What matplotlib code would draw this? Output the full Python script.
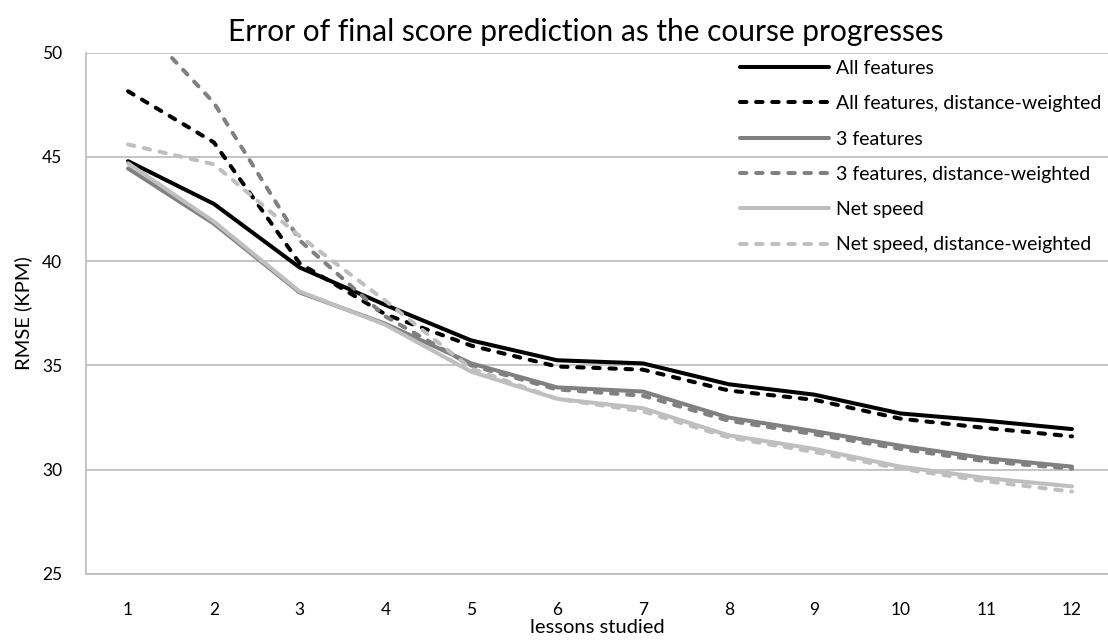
import matplotlib
matplotlib.use("Agg")
import matplotlib.pyplot as plt

lessons = [1, 2, 3, 4, 5, 6, 7, 8, 9, 10, 11, 12]

all_features = [44.8, 42.75, 39.7, 37.9, 36.2, 35.25, 35.1, 34.1, 33.6, 32.7, 32.35, 31.95]
all_features_dw = [48.15, 45.7, 39.9, 37.45, 35.95, 34.95, 34.8, 33.8, 33.35, 32.45, 32.0, 31.6]
three_features = [44.45, 41.8, 38.5, 37.0, 35.1, 33.95, 33.75, 32.5, 31.85, 31.15, 30.55, 30.15]
three_features_dw = [52.0, 47.6, 41.0, 37.35, 35.0, 33.85, 33.55, 32.35, 31.7, 31.0, 30.4, 30.05]
net_speed = [44.7, 41.9, 38.55, 36.95, 34.7, 33.4, 32.95, 31.65, 31.0, 30.15, 29.6, 29.2]
net_speed_dw = [45.6, 44.65, 41.2, 38.1, 34.85, 33.4, 32.8, 31.55, 30.85, 30.05, 29.45, 28.95]

series = [
    ("All features", all_features, "black", False),
    ("All features, distance-weighted", all_features_dw, "black", True),
    ("3 features", three_features, "#808080", False),
    ("3 features, distance-weighted", three_features_dw, "#808080", True),
    ("Net speed", net_speed, "#bfbfbf", False),
    ("Net speed, distance-weighted", net_speed_dw, "#bfbfbf", True),
]

plt.rcParams["font.family"] = ["Lato", "DejaVu Sans"]

fig = plt.figure(figsize=(11.08, 6.44), dpi=100)
ax = fig.add_axes([86 / 1108, 1 - 574 / 644, 1 - 86 / 1108, (574 - 52.7) / 644])

for name, values, color, dashed in series:
    if dashed:
        ax.plot(lessons, values, color=color, linewidth=2.9, label=name,
                dashes=(1.6, 2.4), dash_capstyle="round")
    else:
        ax.plot(lessons, values, color=color, linewidth=2.9, label=name,
                solid_capstyle="round")

ax.set_xlim(0.51, 12.42)
ax.set_ylim(25, 50)
ax.set_xticks(lessons)
ax.set_yticks([25, 30, 35, 40, 45, 50])
ax.tick_params(length=0, labelsize=12.5)
ax.tick_params(axis="y", pad=17)
ax.tick_params(axis="x", pad=20)
ax.grid(axis="y", color="#bfbfbf", linewidth=1.3)
ax.set_axisbelow(True)
for side in ["top", "right"]:
    ax.spines[side].set_visible(False)
for side in ["left", "bottom"]:
    ax.spines[side].set_color("#bfbfbf")
    ax.spines[side].set_linewidth(1.3)

ax.set_xlabel("lessons studied", fontsize=14.5, labelpad=1)
ax.set_ylabel("RMSE (KPM)", fontsize=14.5, labelpad=7)

ax.legend(loc="upper right", bbox_to_anchor=(1.001, 1.001), frameon=False,
          fontsize=14, handlelength=4.6, handletextpad=0.35, labelspacing=0.94,
          borderaxespad=0)

fig.text(0.529, 0.95, "Error of final score prediction as the course progresses",
         ha="center", va="center", fontsize=21.5)

fig.savefig("out.png", dpi=100)
